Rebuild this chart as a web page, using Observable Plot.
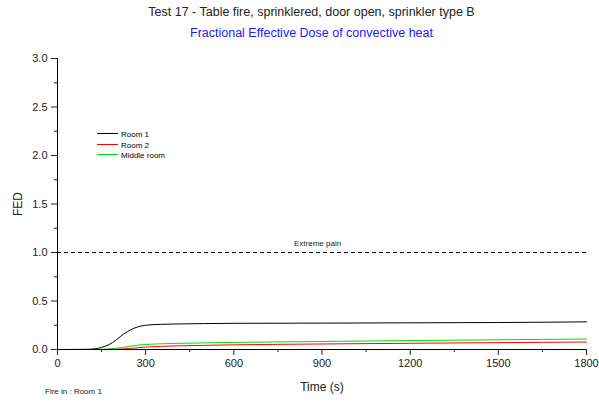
<!DOCTYPE html>
<html>
<head>
<meta charset="utf-8">
<script src="https://cdn.jsdelivr.net/npm/d3@7"></script>
<script src="https://cdn.jsdelivr.net/npm/@observablehq/plot@0.6"></script>
<style>
  html, body { margin: 0; padding: 0; background: #fff; }
  #wrap { position: relative; width: 599px; height: 401px; font-family: "Liberation Sans", Arial, sans-serif; overflow: hidden; }
  #wrap svg { position: absolute; left: 0; top: 0; }
  .abs { position: absolute; line-height: 1; white-space: nowrap; }
  .title { left: 0; width: 623px; text-align: center; font-size: 12.5px; }
  .leg { position: absolute; left: 97px; font-size: 8px; line-height: 1; }
  .leg .sw { display: inline-block; width: 21px; height: 0; border-top: 1px solid; vertical-align: middle; margin-right: 3px; position: relative; top: -1px; }
</style>
</head>
<body>
<div id="wrap">
  <div class="abs title" style="top:6px;color:#222">Test 17 - Table fire, sprinklered, door open, sprinkler type B</div>
  <div class="abs title" style="top:27px;color:#1a1aff">Fractional Effective Dose of convective heat</div>
  <div id="legend"></div>
  <div class="abs" style="left:45px;top:388px;font-size:8px;color:#222">Fire in : Room 1</div>
</div>
<script>
const times      = [0, 100, 125, 150, 175, 200, 225, 250, 275, 300, 350, 400, 500, 600, 900, 1200, 1500, 1800];
const room1      = [0, 0.002, 0.006, 0.022, 0.05, 0.10, 0.16, 0.205, 0.235, 0.25, 0.259, 0.263, 0.267, 0.27, 0.272, 0.275, 0.278, 0.285];
const room2      = [0, 0, 0, 0, 0.001, 0.002, 0.006, 0.012, 0.019, 0.025, 0.032, 0.037, 0.043, 0.048, 0.057, 0.064, 0.071, 0.077];
const middleRoom = [0, 0, 0, 0.002, 0.006, 0.012, 0.022, 0.035, 0.045, 0.052, 0.058, 0.063, 0.068, 0.073, 0.083, 0.092, 0.100, 0.108];

const seriesNames  = ["Room 1", "Room 2", "Middle room"];
const seriesValues = [room1, room2, middleRoom];
const seriesColors = ["#000000", "#ff0000", "#00dd00"];

const xMajorTicks = [0, 300, 600, 900, 1200, 1500, 1800];
const xMinorTicks = [150, 450, 750, 1050, 1350, 1650];
const yMajorTicks = [0, 0.5, 1.0, 1.5, 2.0, 2.5, 3.0];
const yMinorTicks = [0.25, 0.75, 1.25, 1.75, 2.25, 2.75];

const thresholdValue = 1.0;
const thresholdLabel = "Extreme pain";
const thresholdLabelTime = 885;

const rows = seriesNames.flatMap((name, i) =>
  times.map((t, j) => ({series: name, time: t, fed: seriesValues[i][j]})));

const chart = Plot.plot({
  width: 599,
  height: 401,
  marginLeft: 57,
  marginRight: 13,
  marginTop: 58,
  marginBottom: 52,
  style: {fontFamily: "'Liberation Sans', Arial, sans-serif", fontSize: "11px", color: "#222", background: "transparent"},
  x: {domain: [0, 1800]},
  y: {domain: [0, 3]},
  color: {domain: seriesNames, range: seriesColors},
  marks: [
    Plot.ruleY([thresholdValue], {stroke: "#000", strokeWidth: 1, strokeDasharray: "4,3"}),
    Plot.text([thresholdLabel], {x: thresholdLabelTime, y: thresholdValue, dy: -9, fontSize: 8, fill: "#222"}),
    Plot.line(rows, {x: "time", y: "fed", z: "series", stroke: "series", strokeWidth: 1, curve: "monotone-x"}),
    Plot.axisX(xMajorTicks, {tickSize: 6, tickPadding: 4, tickFormat: d => String(d), label: "Time (s)", labelAnchor: "center", labelArrow: "none", labelOffset: 41, fontSize: 11}),
    Plot.axisX(xMinorTicks, {tickSize: 3, text: null, label: null}),
    Plot.axisY(yMajorTicks, {tickSize: 6, tickPadding: 4, tickFormat: d3.format(".1f"), label: "FED", labelAnchor: "center", labelArrow: "none", labelOffset: 44, fontSize: 11}),
    Plot.axisY(yMinorTicks, {tickSize: 3, text: null, label: null}),
    Plot.ruleX([0], {stroke: "#000"}),
    Plot.ruleY([0], {stroke: "#000"})
  ]
});
document.getElementById("wrap").appendChild(chart);

chart.querySelectorAll("[aria-label='x-axis label'] text, [aria-label='y-axis label'] text").forEach(t => t.setAttribute("font-size", "12px"));

const legend = document.getElementById("legend");
const legendTops = [131, 142, 152];
seriesNames.forEach((name, i) => {
  const d = document.createElement("div");
  d.className = "leg";
  d.style.top = legendTops[i] + "px";
  d.innerHTML = `<span class="sw" style="border-color:${seriesColors[i]}"></span>${name}`;
  legend.appendChild(d);
});
</script>
</body>
</html>
